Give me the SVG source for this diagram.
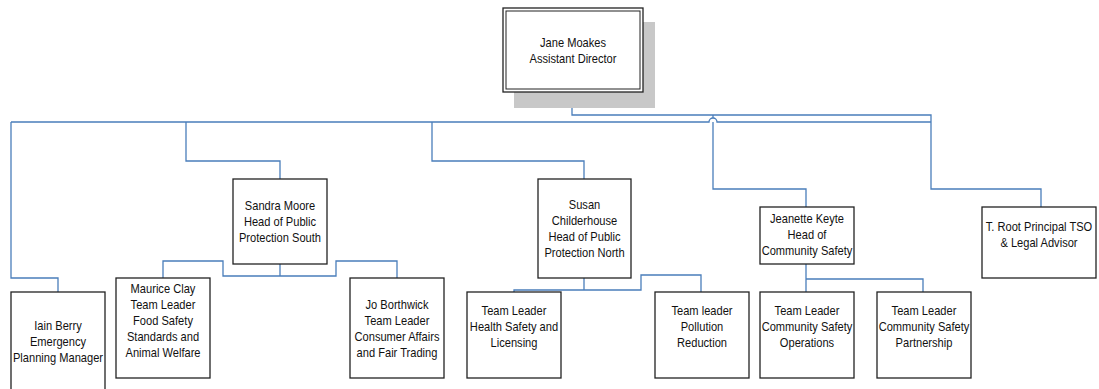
<svg xmlns="http://www.w3.org/2000/svg" width="1099" height="389" viewBox="0 0 1099 389">
<style>
.box{fill:#fff;stroke:#222;stroke-width:1.3}
.shadow{fill:#c8c8c8;stroke:none}
.conn{fill:none;stroke:#4a7ebb;stroke-width:1.3}
text{font-family:"Liberation Sans",Arial,sans-serif;font-size:13px;fill:#111;text-anchor:middle}
</style>
<rect width="1099" height="389" fill="#fff"/>
<g id="connectors">
<path class="conn" d="M572,92 V115 H931 V189 H1041 V207"/>
<path class="conn" d="M11,122 H709 A4,4 0 0 1 717,122 H931"/>
<path class="conn" d="M11,122 V278 H58 V292"/>
<path class="conn" d="M186,122 V161 H280 V179"/>
<path class="conn" d="M432,122 V161 H584 V179"/>
<path class="conn" d="M713,115 V118 M713,122 V189 H806 V207"/>
<path class="conn" d="M280,264 V276 H223 V261 H163 V278 M280,276 H336 V261 H397 V278"/>
<path class="conn" d="M584,278 V290 H514 V292 M584,290 H641 V275 H701 V292"/>
<path class="conn" d="M806,264 V292 M806,279 H923 V292"/>
</g>
<g id="jane">
<rect class="shadow" x="514" y="22" width="141" height="86"/>
<rect class="box" x="503" y="8" width="140" height="84"/>
<rect x="506" y="11" width="134" height="78" fill="none" stroke="#222" stroke-width="1"/>
<g transform="translate(573,0) scale(0.855,1)"><text x="0" y="47">Jane Moakes</text><text x="0" y="63">Assistant Director</text></g>
</g>
<g id="sandra">
<rect class="box" x="233" y="179" width="94" height="85"/>
<g transform="translate(280,0) scale(0.855,1)"><text x="0" y="210">Sandra Moore</text><text x="0" y="226">Head of Public</text><text x="0" y="242">Protection South</text></g>
</g>
<g id="susan">
<rect class="box" x="538" y="179" width="93" height="99"/>
<g transform="translate(584.5,0) scale(0.855,1)"><text x="0" y="209">Susan</text><text x="0" y="225">Childerhouse</text><text x="0" y="241">Head of Public</text><text x="0" y="257">Protection North</text></g>
</g>
<g id="jeanette">
<rect class="box" x="760" y="207" width="94" height="57"/>
<g transform="translate(807,0) scale(0.855,1)"><text x="0" y="223">Jeanette Keyte</text><text x="0" y="239">Head of</text><text x="0" y="255">Community Safety</text></g>
</g>
<g id="troot">
<rect class="box" x="982" y="207" width="114" height="71"/>
<g transform="translate(1039,0) scale(0.855,1)"><text x="0" y="231">T. Root Principal TSO</text><text x="0" y="247">&amp; Legal Advisor</text></g>
</g>
<g id="iain">
<rect class="box" x="11" y="292" width="94" height="105"/>
<g transform="translate(58,0) scale(0.855,1)"><text x="0" y="330">Iain Berry</text><text x="0" y="346">Emergency</text><text x="0" y="362">Planning Manager</text></g>
</g>
<g id="maurice">
<rect class="box" x="116" y="278" width="94" height="100"/>
<g transform="translate(163,0) scale(0.855,1)"><text x="0" y="293">Maurice Clay</text><text x="0" y="309">Team Leader</text><text x="0" y="325">Food Safety</text><text x="0" y="341">Standards and</text><text x="0" y="357">Animal Welfare</text></g>
</g>
<g id="jo">
<rect class="box" x="350" y="278" width="94" height="100"/>
<g transform="translate(397,0) scale(0.855,1)"><text x="0" y="309">Jo Borthwick</text><text x="0" y="325">Team Leader</text><text x="0" y="341">Consumer Affairs</text><text x="0" y="357">and Fair Trading</text></g>
</g>
<g id="health">
<rect class="box" x="467" y="292" width="94" height="86"/>
<g transform="translate(514,0) scale(0.855,1)"><text x="0" y="315">Team Leader</text><text x="0" y="331">Health Safety and</text><text x="0" y="347">Licensing</text></g>
</g>
<g id="pollution">
<rect class="box" x="655" y="292" width="94" height="86"/>
<g transform="translate(702,0) scale(0.855,1)"><text x="0" y="315">Team leader</text><text x="0" y="331">Pollution</text><text x="0" y="347">Reduction</text></g>
</g>
<g id="operations">
<rect class="box" x="760" y="292" width="94" height="86"/>
<g transform="translate(807,0) scale(0.855,1)"><text x="0" y="315">Team Leader</text><text x="0" y="331">Community Safety</text><text x="0" y="347">Operations</text></g>
</g>
<g id="partnership">
<rect class="box" x="877" y="292" width="94" height="86"/>
<g transform="translate(924,0) scale(0.855,1)"><text x="0" y="315">Team Leader</text><text x="0" y="331">Community Safety</text><text x="0" y="347">Partnership</text></g>
</g>
</svg>
